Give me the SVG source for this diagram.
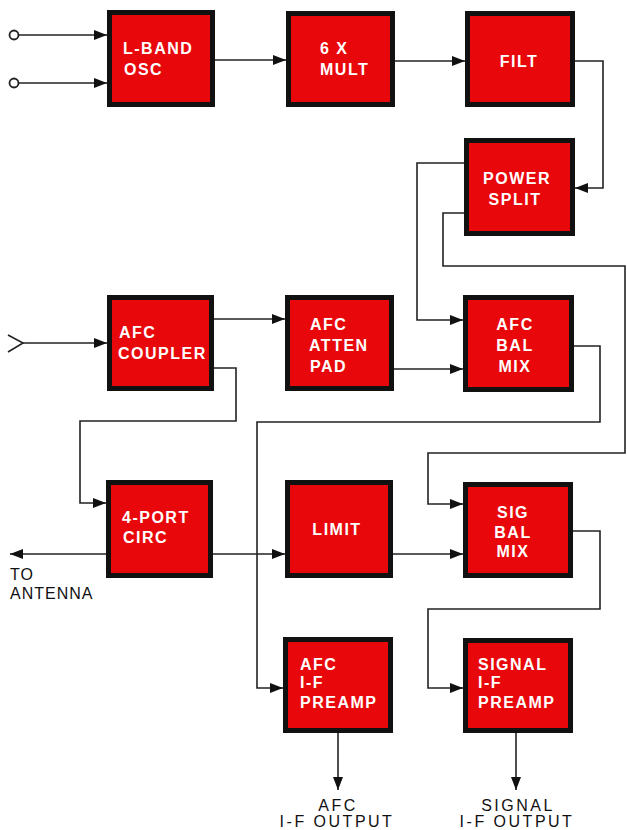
<svg xmlns="http://www.w3.org/2000/svg" width="627" height="830" viewBox="0 0 627 830">
<style>
.box{fill:#e8070b;stroke:#111;stroke-width:5}
.bt{fill:#fff;font-family:"Liberation Sans",Arial,sans-serif;font-weight:bold;font-size:16px;letter-spacing:1.5px}
.c{text-anchor:middle}
.lbl{fill:#111;font-family:"Liberation Sans",Arial,sans-serif;font-size:16px;letter-spacing:2.5px}
.ant{letter-spacing:1px}
.w{fill:none;stroke:#222;stroke-width:1.6}
</style>
<defs>
<marker id="ah" markerUnits="userSpaceOnUse" markerWidth="14" markerHeight="12" refX="13" refY="6" orient="auto">
<path d="M0,1 L13,6 L0,11 z" fill="#111"/>
</marker>
</defs>
<rect width="627" height="830" fill="#fff"/>
<g id="connectors">
<circle cx="14" cy="35" r="4.5" fill="#fff" stroke="#222" stroke-width="1.8"/>
<circle cx="14" cy="83" r="4.5" fill="#fff" stroke="#222" stroke-width="1.8"/>
<path class="w" d="M18.5,35 H107" marker-end="url(#ah)"/>
<path class="w" d="M18.5,83 H107" marker-end="url(#ah)"/>
<path class="w" d="M214,60 H286" marker-end="url(#ah)"/>
<path class="w" d="M394,61 H465" marker-end="url(#ah)"/>
<path class="w" d="M574,61 H603 V188 H575" marker-end="url(#ah)"/>
<path class="w" d="M464,163 H417 V320 H463" marker-end="url(#ah)"/>
<path class="w" d="M464,213 H443 V266 H625 V453 H428 V504 H463" marker-end="url(#ah)"/>
<path class="w" d="M8,335 L23,343 L8,352"/>
<path class="w" d="M23,343 H107" marker-end="url(#ah)"/>
<path class="w" d="M214,319 H285" marker-end="url(#ah)"/>
<path class="w" d="M214,368 H236 V421 H80 V503 H106" marker-end="url(#ah)"/>
<path class="w" d="M394,369 H463" marker-end="url(#ah)"/>
<path class="w" d="M574,346 H600 V422 H257 V688 H283" marker-end="url(#ah)"/>
<path class="w" d="M106,554 H10" marker-end="url(#ah)"/>
<path class="w" d="M213,554 H285" marker-end="url(#ah)"/>
<path class="w" d="M393,554 H463" marker-end="url(#ah)"/>
<path class="w" d="M573,531 H600 V609 H428 V688 H463" marker-end="url(#ah)"/>
<path class="w" d="M338,733 V790" marker-end="url(#ah)"/>
<path class="w" d="M516,733 V790" marker-end="url(#ah)"/>
</g>
<g id="losc"><rect class="box" x="109.5" y="12.5" width="103" height="92"/><text class="bt" x="123" y="54">L-BAND</text><text class="bt" x="124" y="75">OSC</text></g>
<g id="mult"><rect class="box" x="288.5" y="13.5" width="104" height="91"/><text class="bt" x="320" y="54">6 X</text><text class="bt" x="320" y="75">MULT</text></g>
<g id="filt"><rect class="box" x="467.5" y="13.5" width="105" height="91"/><text class="bt c" x="519" y="67">FILT</text></g>
<g id="psplit"><rect class="box" x="466.5" y="140.5" width="106" height="93"/><text class="bt c" x="517" y="184">POWER</text><text class="bt c" x="515" y="205">SPLIT</text></g>
<g id="coupler"><rect class="box" x="109.5" y="297.5" width="102" height="91"/><text class="bt" x="119" y="338">AFC</text><text class="bt" x="118" y="359">COUPLER</text></g>
<g id="atten"><rect class="box" x="287.5" y="297.5" width="104" height="91"/><text class="bt" x="310" y="330">AFC</text><text class="bt" x="309" y="351">ATTEN</text><text class="bt" x="310" y="372">PAD</text></g>
<g id="afcmix"><rect class="box" x="465.5" y="297.5" width="106" height="92"/><text class="bt c" x="515" y="330">AFC</text><text class="bt c" x="515" y="351">BAL</text><text class="bt c" x="515" y="372">MIX</text></g>
<g id="circ"><rect class="box" x="108.5" y="482.5" width="102" height="93"/><text class="bt" x="122" y="523">4-PORT</text><text class="bt" x="123" y="543">CIRC</text></g>
<g id="limit"><rect class="box" x="287.5" y="482.5" width="103" height="93"/><text class="bt c" x="337" y="535">LIMIT</text></g>
<g id="sigmix"><rect class="box" x="465.5" y="484.5" width="105" height="91"/><text class="bt c" x="513" y="518">SIG</text><text class="bt c" x="513" y="538">BAL</text><text class="bt c" x="513" y="557">MIX</text></g>
<g id="afcpre"><rect class="box" x="285.5" y="639.5" width="105" height="91"/><text class="bt" x="300" y="670">AFC</text><text class="bt" x="300" y="688">I-F</text><text class="bt" x="300" y="708">PREAMP</text></g>
<g id="sigpre"><rect class="box" x="465.5" y="640.5" width="105" height="90"/><text class="bt" x="478" y="670">SIGNAL</text><text class="bt" x="478" y="688">I-F</text><text class="bt" x="478" y="708">PREAMP</text></g>
<g id="labels">
<text class="lbl ant" x="10" y="580">TO</text>
<text class="lbl ant" x="10" y="599">ANTENNA</text>
<text class="lbl c" x="338" y="811">AFC</text>
<text class="lbl c" x="337" y="827">I-F OUTPUT</text>
<text class="lbl c" x="518" y="811">SIGNAL</text>
<text class="lbl c" x="517" y="827">I-F OUTPUT</text>
</g>
</svg>
